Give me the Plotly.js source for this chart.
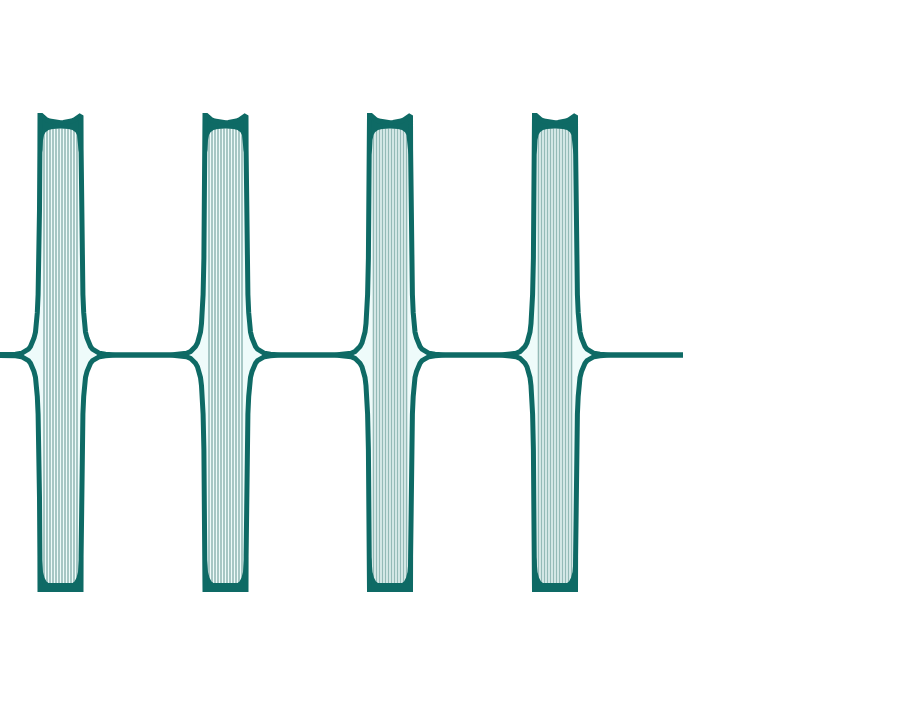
<!DOCTYPE html>
<html>
<head>
<meta charset="utf-8">
<script src="https://cdn.plot.ly/plotly-3.0.1.min.js"></script>
<style>html,body{margin:0;padding:0;background:#fff;}#chart{width:905px;height:710px;}</style>
</head>
<body>
<div id="chart"></div>
<script>
// ---- data ----
const burstCenters = [60.5, 225.5, 390, 555];   // x position of each burst
const signalStart = -20;
const signalEnd = 683;
// flank of the envelope: distance from burst centre and height (outside -> inside)
const flankD = [55, 45, 39, 35, 32, 30, 28, 26.5, 25, 24, 23.2, 22.4, 21.6, 21, 20.6, 20.5];
const flankU = [0, 0.003, 0.007, 0.014, 0.024, 0.035, 0.05, 0.07, 0.095, 0.13, 0.175, 0.25, 0.4, 0.6, 0.85, 0.99];
// top of the burst (horns with a rounded dip in the middle), from the corner to the centre
const topD = [19, 17.5, 16, 14, 11, 7, 3, 0];
const topU = [0.99, 0.984, 0.978, 0.972, 0.967, 0.963, 0.961, 0.960];
// bottom of the burst (flat)
const bottomU = -0.969;
const lowerFactor = 0.979;
// inner edge of the dark top band
const topInnerD = [20.5, 18, 17.5, 16.5, 15, 12, 8, 0];
const topInnerU = [0.80, 0.847, 0.888, 0.909, 0.921, 0.930, 0.934, 0.936];
// inner edge of the dark bottom band
const botInnerD = [20.5, 18.5, 17.5, 16, 14, 12, 0];
const botInnerU = [-0.80, -0.847, -0.897, -0.921, -0.936, -0.942, -0.942];
// thin oscillation strokes inside each burst (offsets from centre)
const stripeOffsets = [-16.5, -13.5, -10.5, -7.5, -4.5, -1.5, 1.5, 4.5, 7.5, 10.5, 13.5, 16.5];

const teal = '#0e6a65';
const lightFill = '#eefbfa';
const stripeColor = '#94bab7';

// ---- build helper sequences ----
function burstProfile(c, sign) {
  const xs = [], ys = [];
  for (let i = 0; i < flankD.length; i++) {
    xs.push(c - flankD[i]);
    ys.push(sign > 0 ? flankU[i] : -flankU[i] * lowerFactor);
  }
  const fullTop = [];
  for (let i = 0; i < topD.length; i++) fullTop.push([-topD[i], topU[i]]);
  for (let i = topD.length - 2; i >= 0; i--) fullTop.push([topD[i], topU[i]]);
  for (const [d, u] of fullTop) {
    xs.push(c + d);
    ys.push(sign > 0 ? u : bottomU);
  }
  for (let i = flankD.length - 1; i >= 0; i--) {
    xs.push(c + flankD[i]);
    ys.push(sign > 0 ? flankU[i] : -flankU[i] * lowerFactor);
  }
  return [xs, ys];
}

function outline(sign) {
  const xs = [signalStart], ys = [0];
  for (const c of burstCenters) {
    const [bx, by] = burstProfile(c, sign);
    xs.push(...bx); ys.push(...by);
  }
  xs.push(signalEnd); ys.push(0);
  return [xs, ys];
}

const traces = [];

// light interior of every burst
for (const c of burstCenters) {
  const [ux, uy] = burstProfile(c, 1);
  const [lx, ly] = burstProfile(c, -1);
  traces.push({
    type: 'scatter', mode: 'lines', x: ux.concat(lx.slice().reverse()),
    y: uy.concat(ly.slice().reverse()), fill: 'toself', fillcolor: lightFill,
    line: {width: 0, color: lightFill}, hoverinfo: 'skip'
  });
}

// oscillation strokes
{
  const sx = [], sy = [];
  for (const c of burstCenters) {
    for (const o of stripeOffsets) {
      sx.push(c + o, c + o, null);
      sy.push(botInnerU[botInnerU.length - 1], topInnerU[topInnerU.length - 1], null);
    }
  }
  traces.push({type: 'scatter', mode: 'lines', x: sx, y: sy,
    line: {color: stripeColor, width: 1.6}, hoverinfo: 'skip'});
}

// dark bands at top and bottom
for (const c of burstCenters) {
  const tx = [], ty = [];
  const outer = [[-20.5, 0.99]];
  for (let i = 0; i < topD.length; i++) outer.push([-topD[i], topU[i]]);
  for (let i = topD.length - 2; i >= 0; i--) outer.push([topD[i], topU[i]]);
  outer.push([20.5, 0.99]);
  for (const [d, u] of outer) { tx.push(c + d); ty.push(u); }
  const inner = [];
  for (let i = 0; i < topInnerD.length; i++) inner.push([topInnerD[i], topInnerU[i]]);
  for (let i = topInnerD.length - 2; i >= 0; i--) inner.push([-topInnerD[i], topInnerU[i]]);
  for (const [d, u] of inner) { tx.push(c + d); ty.push(u); }
  traces.push({type: 'scatter', mode: 'lines', x: tx, y: ty, fill: 'toself',
    fillcolor: teal, line: {width: 0, color: teal}, hoverinfo: 'skip'});

  const bx = [c - 20.5, c + 20.5], by = [bottomU, bottomU];
  const binner = [];
  for (let i = 0; i < botInnerD.length; i++) binner.push([botInnerD[i], botInnerU[i]]);
  for (let i = botInnerD.length - 2; i >= 0; i--) binner.push([-botInnerD[i], botInnerU[i]]);
  for (const [d, u] of binner) { bx.push(c + d); by.push(u); }
  traces.push({type: 'scatter', mode: 'lines', x: bx, y: by, fill: 'toself',
    fillcolor: teal, line: {width: 0, color: teal}, hoverinfo: 'skip'});
}

// upper and lower outlines of the signal
for (const sign of [1, -1]) {
  const [ox, oy] = outline(sign);
  traces.push({type: 'scatter', mode: 'lines', x: ox, y: oy,
    line: {color: teal, width: 5, shape: 'linear'}, hoverinfo: 'skip'});
}

const layout = {
  width: 905, height: 710,
  margin: {l: 0, r: 0, t: 0, b: 0, pad: 0},
  paper_bgcolor: '#ffffff', plot_bgcolor: '#ffffff',
  showlegend: false,
  xaxis: {visible: false, range: [0, 905], fixedrange: true},
  yaxis: {visible: false, range: [-1.467, 1.467], fixedrange: true}
};

Plotly.newPlot('chart', traces, layout, {displayModeBar: false, staticPlot: true});
</script>
</body>
</html>
